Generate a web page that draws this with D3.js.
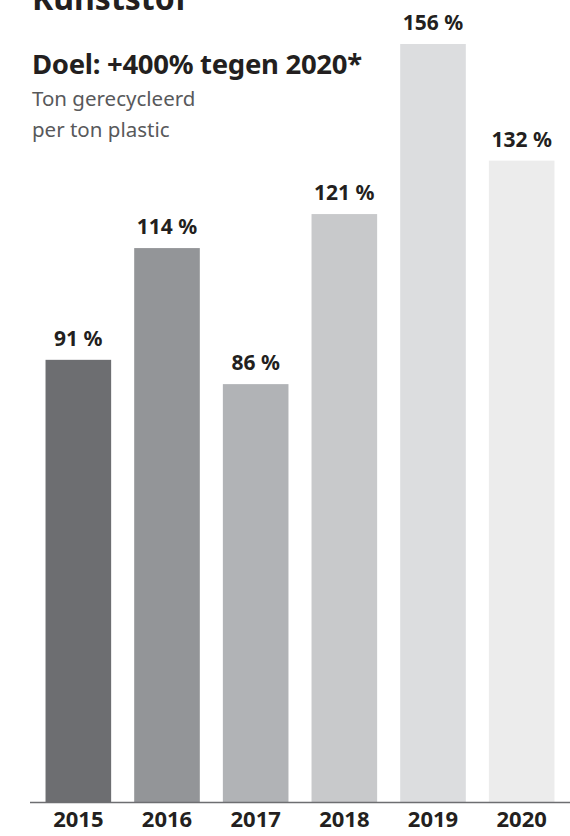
<!DOCTYPE html>
<html>
<head>
<meta charset="utf-8">
<script src="https://d3js.org/d3.v7.min.js"></script>
<style>
body { margin: 0; background: #fff; }
text { font-family: "Noto Sans", sans-serif; }
</style>
</head>
<body>
<div id="chart"></div>
<script>
var years = ["2015", "2016", "2017", "2018", "2019", "2020"]
var values = [91, 114, 86, 121, 156, 132]
var labels = ["91 %", "114 %", "86 %", "121 %", "156 %", "132 %"]
var colors = ["#6d6e71", "#939598", "#b1b3b6", "#c8c9cb", "#dcdddf", "#ececec"]

var width = 570, height = 836
var baseline = 802

var svg = d3.select("#chart").append("svg")
    .attr("width", width)
    .attr("height", height)

// titles
svg.append("text")
    .attr("x", 32).attr("y", 10)
    .attr("font-size", 32).attr("font-weight", "bold").attr("fill", "#231f20")
    .text("Kunststof")
svg.append("text")
    .attr("x", 32).attr("y", 74)
    .attr("font-size", 27.5).attr("font-weight", "bold").attr("fill", "#231f20")
    .attr("letter-spacing", -0.3)
    .text("Doel: +400% tegen 2020*")
svg.append("text")
    .attr("x", 32).attr("y", 106)
    .attr("font-size", 20.5).attr("fill", "#58595b")
    .text("Ton gerecycleerd")
svg.append("text")
    .attr("x", 32).attr("y", 137)
    .attr("font-size", 20.5).attr("fill", "#58595b")
    .text("per ton plastic")

var x = d3.scaleBand().domain(years).range([34, 566]).paddingInner(0.26).paddingOuter(0.13)
var y = d3.scaleLinear().domain([0, 156]).range([baseline, 44])

svg.selectAll(".bar")
    .data(values)
    .enter().append("rect")
    .attr("class", "bar")
    .attr("x", function(d, i) { return x(years[i]) })
    .attr("y", function(d) { return y(d) })
    .attr("width", x.bandwidth())
    .attr("height", function(d) { return baseline - y(d) })
    .attr("fill", function(d, i) { return colors[i] })

svg.selectAll(".label")
    .data(values)
    .enter().append("text")
    .attr("class", "label")
    .attr("x", function(d, i) { return x(years[i]) + x.bandwidth() / 2 })
    .attr("y", function(d) { return y(d) - 14 })
    .attr("text-anchor", "middle")
    .attr("font-size", 21).attr("font-weight", "bold").attr("fill", "#231f20")
    .text(function(d, i) { return labels[i] })

var axis = svg.append("g")
    .attr("transform", "translate(0," + baseline + ")")
    .call(d3.axisBottom(x).tickSize(0).tickPadding(9))
axis.select(".domain").attr("d", "M30,0.5H570").attr("stroke", "#6d6e71").attr("stroke-width", 1.5)
axis.selectAll("text")
    .attr("font-size", 22).attr("font-weight", "bold").attr("fill", "#231f20")
    .attr("font-family", "Noto Sans, sans-serif")
</script>
</body>
</html>
